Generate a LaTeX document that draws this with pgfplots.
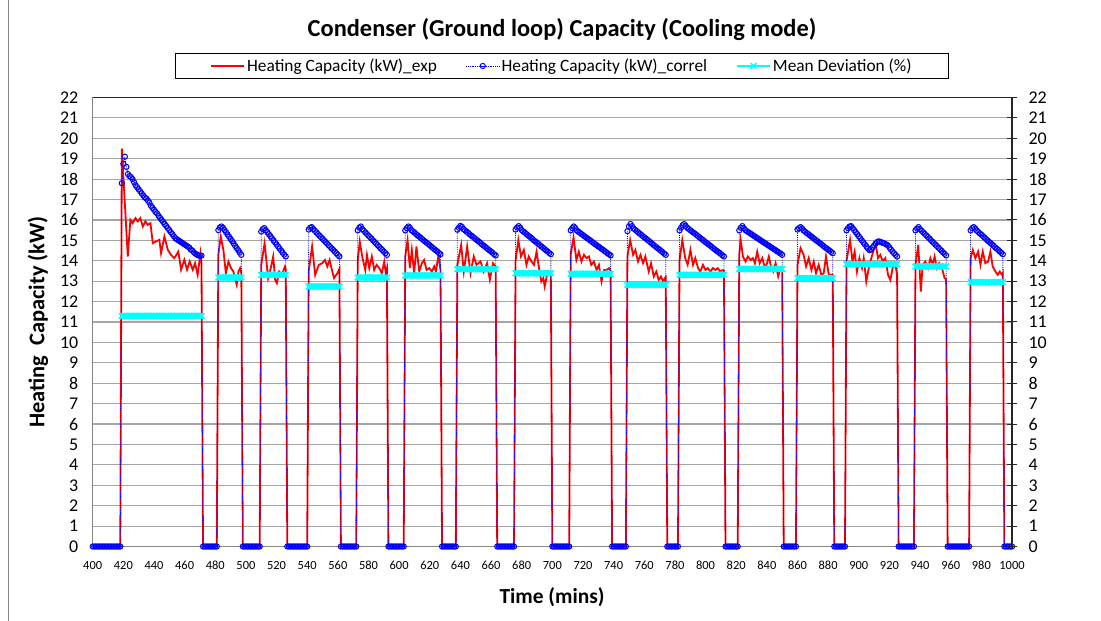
\documentclass[border=0pt]{standalone}
\usepackage{pgfplots}
\pgfplotsset{compat=1.18}
\usepackage{pgfplotstable}
\usepackage{fontspec}
\setmainfont{Carlito}
\definecolor{gridgray}{HTML}{A6A6A6}
\definecolor{axgray}{HTML}{868686}
\definecolor{cyanx}{RGB}{0,255,255}
\definecolor{redx}{RGB}{255,0,0}
\definecolor{bluex}{RGB}{0,0,255}
\pgfplotstableread[row sep=\\]{
t c d\\
400 0 nan\\401 0 nan\\402 0 nan\\403 0 nan\\404 0 nan\\405 0 nan\\406 0 nan\\407 0 nan\\408 0 nan\\409 0 nan\\410 0 nan\\411 0 nan\\412 0 nan\\413 0 nan\\414 0 nan\\415 0 nan\\416 0 nan\\417 0 nan\\418 0 nan\\
419 17.80 11.3\\420 18.75 11.3\\421 19.10 11.3\\422 18.60 11.3\\423 18.25 11.3\\424 18.15 11.3\\425 18.10 11.3\\426 18.00 11.3\\427 17.85 11.3\\428 17.70 11.3\\429 17.60 11.3\\430 17.50 11.3\\431 17.40 11.3\\432 17.30 11.3\\433 17.20 11.3\\434 17.10 11.3\\435 17.05 11.3\\436 16.95 11.3\\437 16.85 11.3\\438 16.70 11.3\\439 16.60 11.3\\440 16.50 11.3\\441 16.40 11.3\\442 16.32 11.3\\443 16.20 11.3\\444 16.10 11.3\\445 16.00 11.3\\446 15.90 11.3\\447 15.80 11.3\\448 15.70 11.3\\449 15.60 11.3\\450 15.50 11.3\\451 15.40 11.3\\452 15.30 11.3\\453 15.20 11.3\\454 15.10 11.3\\455 15.05 11.3\\456 15.00 11.3\\457 14.95 11.3\\458 14.90 11.3\\459 14.85 11.3\\460 14.80 11.3\\461 14.75 11.3\\462 14.70 11.3\\463 14.65 11.3\\464 14.55 11.3\\465 14.50 11.3\\466 14.42 11.3\\467 14.35 11.3\\468 14.30 11.3\\469 14.26 11.3\\470 14.25 11.3\\471 14.25 11.3\\
472 0 nan\\473 0 nan\\474 0 nan\\475 0 nan\\476 0 nan\\477 0 nan\\478 0 nan\\479 0 nan\\480 0 nan\\481 0 nan\\
482 15.50 13.18\\483 15.63 13.18\\484 15.68 13.18\\485 15.62 13.18\\486 15.51 13.18\\487 15.40 13.18\\488 15.29 13.18\\489 15.18 13.18\\490 15.07 13.18\\491 14.96 13.18\\492 14.85 13.18\\493 14.73 13.18\\494 14.62 13.18\\495 14.51 13.18\\496 14.40 13.18\\497 14.29 13.18\\
498 0 nan\\499 0 nan\\500 0 nan\\501 0 nan\\502 0 nan\\503 0 nan\\504 0 nan\\505 0 nan\\506 0 nan\\507 0 nan\\508 0 nan\\509 0 nan\\
510 15.43 13.31\\511 15.55 13.31\\512 15.60 13.31\\513 15.50 13.31\\514 15.40 13.31\\515 15.30 13.31\\516 15.20 13.31\\517 15.10 13.31\\518 15.00 13.31\\519 14.90 13.31\\520 14.80 13.31\\521 14.70 13.31\\522 14.60 13.31\\523 14.50 13.31\\524 14.40 13.31\\525 14.30 13.31\\526 14.21 13.31\\
527 0 nan\\528 0 nan\\529 0 nan\\530 0 nan\\531 0 nan\\532 0 nan\\533 0 nan\\534 0 nan\\535 0 nan\\536 0 nan\\537 0 nan\\538 0 nan\\539 0 nan\\540 0 nan\\
541 15.53 12.74\\542 15.62 12.74\\543 15.65 12.74\\544 15.55 12.74\\545 15.47 12.74\\546 15.39 12.74\\547 15.31 12.74\\548 15.23 12.74\\549 15.16 12.74\\550 15.08 12.74\\551 15.00 12.74\\552 14.92 12.74\\553 14.84 12.74\\554 14.76 12.74\\555 14.68 12.74\\556 14.60 12.74\\557 14.53 12.74\\558 14.45 12.74\\559 14.37 12.74\\560 14.29 12.74\\561 14.21 12.74\\
562 0 nan\\563 0 nan\\564 0 nan\\565 0 nan\\566 0 nan\\567 0 nan\\568 0 nan\\569 0 nan\\570 0 nan\\571 0 nan\\572 0 nan\\
573 15.49 13.18\\574 15.62 13.18\\575 15.68 13.18\\576 15.55 13.18\\577 15.47 13.18\\578 15.39 13.18\\579 15.31 13.18\\580 15.23 13.18\\581 15.16 13.18\\582 15.08 13.18\\583 15.00 13.18\\584 14.92 13.18\\585 14.84 13.18\\586 14.76 13.18\\587 14.68 13.18\\588 14.60 13.18\\589 14.53 13.18\\590 14.45 13.18\\591 14.37 13.18\\592 14.29 13.18\\
593 0 nan\\594 0 nan\\595 0 nan\\596 0 nan\\597 0 nan\\598 0 nan\\599 0 nan\\600 0 nan\\601 0 nan\\602 0 nan\\603 0 nan\\
604 15.49 13.28\\605 15.60 13.28\\606 15.68 13.28\\607 15.62 13.28\\608 15.50 13.28\\609 15.44 13.28\\610 15.38 13.28\\611 15.31 13.28\\612 15.25 13.28\\613 15.19 13.28\\614 15.13 13.28\\615 15.07 13.28\\616 15.00 13.28\\617 14.94 13.28\\618 14.88 13.28\\619 14.82 13.28\\620 14.76 13.28\\621 14.69 13.28\\622 14.63 13.28\\623 14.57 13.28\\624 14.51 13.28\\625 14.45 13.28\\626 14.38 13.28\\627 14.32 13.28\\
628 0 nan\\629 0 nan\\630 0 nan\\631 0 nan\\632 0 nan\\633 0 nan\\634 0 nan\\635 0 nan\\636 0 nan\\637 0 nan\\
638 15.52 13.59\\639 15.62 13.59\\640 15.71 13.59\\641 15.66 13.59\\642 15.55 13.59\\643 15.49 13.59\\644 15.43 13.59\\645 15.37 13.59\\646 15.30 13.59\\647 15.24 13.59\\648 15.18 13.59\\649 15.12 13.59\\650 15.06 13.59\\651 15.00 13.59\\652 14.94 13.59\\653 14.88 13.59\\654 14.81 13.59\\655 14.75 13.59\\656 14.69 13.59\\657 14.63 13.59\\658 14.57 13.59\\659 14.51 13.59\\660 14.45 13.59\\661 14.39 13.59\\662 14.32 13.59\\663 14.26 13.59\\
664 0 nan\\665 0 nan\\666 0 nan\\667 0 nan\\668 0 nan\\669 0 nan\\670 0 nan\\671 0 nan\\672 0 nan\\673 0 nan\\674 0 nan\\675 0 nan\\
676 15.53 13.39\\677 15.63 13.39\\678 15.70 13.39\\679 15.62 13.39\\680 15.50 13.39\\681 15.44 13.39\\682 15.38 13.39\\683 15.31 13.39\\684 15.25 13.39\\685 15.19 13.39\\686 15.13 13.39\\687 15.07 13.39\\688 15.00 13.39\\689 14.94 13.39\\690 14.88 13.39\\691 14.82 13.39\\692 14.76 13.39\\693 14.69 13.39\\694 14.63 13.39\\695 14.57 13.39\\696 14.51 13.39\\697 14.45 13.39\\698 14.38 13.39\\699 14.32 13.39\\
700 0 nan\\701 0 nan\\702 0 nan\\703 0 nan\\704 0 nan\\705 0 nan\\706 0 nan\\707 0 nan\\708 0 nan\\709 0 nan\\710 0 nan\\711 0 nan\\
712 15.49 13.36\\713 15.60 13.36\\714 15.68 13.36\\715 15.60 13.36\\716 15.48 13.36\\717 15.42 13.36\\718 15.37 13.36\\719 15.31 13.36\\720 15.26 13.36\\721 15.20 13.36\\722 15.15 13.36\\723 15.09 13.36\\724 15.04 13.36\\725 14.98 13.36\\726 14.92 13.36\\727 14.87 13.36\\728 14.81 13.36\\729 14.76 13.36\\730 14.70 13.36\\731 14.65 13.36\\732 14.59 13.36\\733 14.54 13.36\\734 14.48 13.36\\735 14.43 13.36\\736 14.37 13.36\\737 14.32 13.36\\738 14.26 13.36\\
739 0 nan\\740 0 nan\\741 0 nan\\742 0 nan\\743 0 nan\\744 0 nan\\745 0 nan\\746 0 nan\\747 0 nan\\748 0 nan\\
749 15.45 12.82\\750 15.68 12.82\\751 15.80 12.82\\752 15.70 12.82\\753 15.58 12.82\\754 15.52 12.82\\755 15.46 12.82\\756 15.40 12.82\\757 15.33 12.82\\758 15.27 12.82\\759 15.21 12.82\\760 15.15 12.82\\761 15.09 12.82\\762 15.03 12.82\\763 14.97 12.82\\764 14.91 12.82\\765 14.84 12.82\\766 14.78 12.82\\767 14.72 12.82\\768 14.66 12.82\\769 14.60 12.82\\770 14.54 12.82\\771 14.48 12.82\\772 14.42 12.82\\773 14.35 12.82\\774 14.29 12.82\\
775 0 nan\\776 0 nan\\777 0 nan\\778 0 nan\\779 0 nan\\780 0 nan\\781 0 nan\\782 0 nan\\
783 15.49 13.31\\784 15.62 13.31\\785 15.74 13.31\\786 15.80 13.31\\787 15.72 13.31\\788 15.62 13.31\\789 15.56 13.31\\790 15.50 13.31\\791 15.44 13.31\\792 15.38 13.31\\793 15.33 13.31\\794 15.27 13.31\\795 15.21 13.31\\796 15.15 13.31\\797 15.09 13.31\\798 15.03 13.31\\799 14.97 13.31\\800 14.91 13.31\\801 14.86 13.31\\802 14.80 13.31\\803 14.74 13.31\\804 14.68 13.31\\805 14.62 13.31\\806 14.56 13.31\\807 14.50 13.31\\808 14.44 13.31\\809 14.39 13.31\\810 14.33 13.31\\811 14.27 13.31\\812 14.21 13.31\\
813 0 nan\\814 0 nan\\815 0 nan\\816 0 nan\\817 0 nan\\818 0 nan\\819 0 nan\\820 0 nan\\821 0 nan\\
822 15.49 13.60\\823 15.62 13.60\\824 15.70 13.60\\825 15.60 13.60\\826 15.50 13.60\\827 15.45 13.60\\828 15.40 13.60\\829 15.35 13.60\\830 15.30 13.60\\831 15.25 13.60\\832 15.20 13.60\\833 15.15 13.60\\834 15.10 13.60\\835 15.05 13.60\\836 15.00 13.60\\837 14.95 13.60\\838 14.90 13.60\\839 14.85 13.60\\840 14.80 13.60\\841 14.75 13.60\\842 14.70 13.60\\843 14.65 13.60\\844 14.60 13.60\\845 14.55 13.60\\846 14.50 13.60\\847 14.45 13.60\\848 14.40 13.60\\849 14.35 13.60\\850 14.29 13.60\\
851 0 nan\\852 0 nan\\853 0 nan\\854 0 nan\\855 0 nan\\856 0 nan\\857 0 nan\\858 0 nan\\859 0 nan\\
860 15.53 13.15\\861 15.60 13.15\\862 15.65 13.15\\863 15.58 13.15\\864 15.48 13.15\\865 15.42 13.15\\866 15.36 13.15\\867 15.31 13.15\\868 15.25 13.15\\869 15.19 13.15\\870 15.13 13.15\\871 15.07 13.15\\872 15.01 13.15\\873 14.96 13.15\\874 14.90 13.15\\875 14.84 13.15\\876 14.78 13.15\\877 14.72 13.15\\878 14.66 13.15\\879 14.61 13.15\\880 14.55 13.15\\881 14.49 13.15\\882 14.43 13.15\\883 14.37 13.15\\
884 0 nan\\885 0 nan\\886 0 nan\\887 0 nan\\888 0 nan\\889 0 nan\\890 0 nan\\891 0 nan\\
892 15.49 13.83\\893 15.60 13.83\\894 15.68 13.83\\895 15.70 13.83\\896 15.60 13.83\\897 15.50 13.83\\898 15.40 13.83\\899 15.30 13.83\\900 15.20 13.83\\901 15.10 13.83\\902 15.00 13.83\\903 14.90 13.83\\904 14.80 13.83\\905 14.70 13.83\\906 14.60 13.83\\907 14.52 13.83\\908 14.55 13.83\\909 14.65 13.83\\910 14.75 13.83\\911 14.85 13.83\\912 14.92 13.83\\913 14.95 13.83\\914 14.93 13.83\\915 14.90 13.83\\916 14.87 13.83\\917 14.84 13.83\\918 14.80 13.83\\919 14.75 13.83\\920 14.65 13.83\\921 14.55 13.83\\922 14.45 13.83\\923 14.37 13.83\\924 14.29 13.83\\925 14.21 13.83\\
926 0 nan\\927 0 nan\\928 0 nan\\929 0 nan\\930 0 nan\\931 0 nan\\932 0 nan\\933 0 nan\\934 0 nan\\935 0 nan\\936 0 nan\\
937 15.49 13.72\\938 15.58 13.72\\939 15.65 13.72\\940 15.55 13.72\\941 15.47 13.72\\942 15.40 13.72\\943 15.32 13.72\\944 15.25 13.72\\945 15.17 13.72\\946 15.10 13.72\\947 15.02 13.72\\948 14.94 13.72\\949 14.87 13.72\\950 14.79 13.72\\951 14.72 13.72\\952 14.64 13.72\\953 14.57 13.72\\954 14.49 13.72\\955 14.41 13.72\\956 14.34 13.72\\957 14.26 13.72\\
958 0 nan\\959 0 nan\\960 0 nan\\961 0 nan\\962 0 nan\\963 0 nan\\964 0 nan\\965 0 nan\\966 0 nan\\967 0 nan\\968 0 nan\\969 0 nan\\970 0 nan\\971 0 nan\\972 0 nan\\
973 15.49 12.95\\974 15.60 12.95\\975 15.65 12.95\\976 15.58 12.95\\977 15.48 12.95\\978 15.41 12.95\\979 15.34 12.95\\980 15.28 12.95\\981 15.21 12.95\\982 15.14 12.95\\983 15.07 12.95\\984 15.00 12.95\\985 14.93 12.95\\986 14.87 12.95\\987 14.80 12.95\\988 14.73 12.95\\989 14.66 12.95\\990 14.59 12.95\\991 14.53 12.95\\992 14.46 12.95\\993 14.39 12.95\\994 14.32 12.95\\
995 0 nan\\996 0 nan\\997 0 nan\\998 0 nan\\999 0 nan\\1000 0 nan\\
}\datatable
\begin{document}
\begin{tikzpicture}
\path[use as bounding box] (0bp,0bp) rectangle (1101bp,621bp);
\draw[color=axgray, line width=1bp] (8bp,0bp) -- (8bp,621bp);
\begin{axis}[
  at={(92.7bp,74.5bp)}, anchor=south west,
  width=919.3bp, height=449bp, scale only axis,
  xmin=400, xmax=1000, ymin=0, ymax=22,
  xtick={400,420,...,1000}, ytick={0,1,...,22},
  ymajorgrids, grid style={color=gridgray, line width=1.1bp},
  axis line style={draw=none},
  major tick length=0pt,
  clip=false,
  unbounded coords=jump,
  /pgf/number format/assume math mode=true,
  /pgf/number format/1000 sep={},
  xticklabel style={font=\fontsize{12.5}{14}\selectfont, yshift=-11bp},
  yticklabel style={font=\fontsize{18}{20}\selectfont, xshift=-11bp},
  legend columns=3,
  legend style={at={(axis description cs:0.5105,1.0702)}, anchor=center,
    draw=black, line width=0.8bp, font=\fontsize{17.4}{19}\selectfont,
    inner xsep=35bp, inner ysep=3.5bp,
    /tikz/every even column/.append style={column sep=27bp}},
  legend cell align=left,
  legend image code/.code={\draw[mark repeat=2,mark phase=2,#1] plot coordinates {(0bp,0bp) (16.5bp,0bp) (33bp,0bp)};},
]
\draw[color=axgray, line width=1.3bp] (rel axis cs:0,0) -- (rel axis cs:0,1);
\draw[color=axgray, line width=1.5bp] (rel axis cs:0,0) -- (rel axis cs:1,0);
\draw[color=black!85, line width=1.4bp] (rel axis cs:0,1) -- (rel axis cs:1,1);
\addplot[color=redx, line width=1.8bp] coordinates {
(400,0) (418,0) (419,19.5) (422.9,14.21) (424.6,16.01) (426.1,15.84) (427.9,16.09) (429.4,15.93) (431.1,16.09) (432.7,15.68) (434.4,15.93) (435.9,15.76) (437.7,15.84) (439.2,14.86) (441.4,14.95) (443.5,15.03) (444.6,14.37) (446.8,15.19) (449,14.54) (451.1,14.29) (453.3,14.13) (455.9,14.45) (457.7,13.56) (459.8,14.05) (461.6,13.56) (463.3,13.97) (465.3,13.56) (466.8,13.88) (468.5,13.31) (470.3,14.37) (471,13.88) (472,0)
(481,0) (482,14.3) (483.6,15.19) (485.3,14.53) (486.9,13.39) (488.6,13.96) (490.3,13.64) (491.8,13.47) (494,12.82) (495.1,13.47) (496.2,13.64) (497,13.4) (498,0)
(509,0) (510,13.8) (512.2,14.86) (514.5,13.15) (516.2,13.64) (517.8,14.21) (519.1,13.06) (520.2,12.90) (521.7,13.47) (523.4,13.31) (525.5,13.72) (526,13.6) (527,0)
(540,0) (541,13.5) (543.2,14.70) (545.2,13.31) (547.6,13.80) (549.8,13.88) (551.6,14.04) (553.1,13.72) (554.6,14.04) (556.4,13.47) (557.5,13.15) (559.7,13.39) (561,13.6) (562,0)
(572,0) (573,14.0) (574.3,14.94) (576.1,14.13) (577.9,13.55) (579,14.29) (580.5,13.64) (582.2,14.21) (583.7,13.55) (585.3,13.80) (587,13.64) (588.7,13.39) (590.3,13.96) (591.3,13.39) (592,13.6) (593,0)
(603,0) (604,14.2) (605.5,15.02) (607,13.64) (608.3,14.53) (609.8,13.39) (611.3,14.70) (613.1,13.47) (614.8,13.88) (616.3,14.04) (617.9,13.55) (619.6,13.64) (621.3,13.47) (622.9,13.72) (624,13.47) (625.7,14.29) (627,13.55) (628,0)
(637,0) (638,13.8) (640.5,14.78) (642.2,13.47) (644.4,14.70) (646.6,13.39) (648.7,14.21) (650.5,13.80) (653.1,13.97) (655.2,13.47) (657.4,13.88) (659.2,13.07) (661.3,13.88) (663,13.72) (664,0)
(675,0) (676,14.0) (677.8,15.02) (679.5,14.21) (681.4,14.53) (683.1,13.80) (684.6,14.21) (686.4,13.96) (688,13.80) (689.7,14.45) (691.3,13.64) (692.8,12.98) (694.1,13.15) (695,12.74) (696.3,13.23) (697.8,13.47) (699,13.3) (700,0)
(711,0) (712,14.3) (713.8,15.14) (715.7,14.04) (717.3,14.45) (719,13.96) (720.6,14.29) (722.4,14.13) (723.9,14.21) (725.4,13.80) (727.1,13.96) (728.9,13.55) (730.4,13.80) (732.1,12.98) (733.7,13.55) (735.4,13.55) (737,13.64) (738,13.5) (739,0)
(748,0) (749,14.2) (750.8,15.02) (752.7,14.29) (754.2,14.53) (755.9,13.96) (757.5,14.29) (759.2,13.88) (760.7,14.21) (762.9,13.47) (764.4,13.88) (766.2,13.23) (767.9,13.47) (769.4,13.06) (770.9,13.23) (772.3,12.98) (773.4,13.15) (774,13.2) (775,0)
(782,0) (783,14.0) (784.8,15.02) (786.7,14.13) (788.3,13.80) (790.1,14.53) (791.8,13.80) (793.3,14.13) (795.1,13.64) (796.6,13.47) (798.3,13.80) (799.9,13.55) (801.4,13.64) (803.1,13.47) (804.8,13.64) (806.4,13.55) (807.9,13.64) (809.6,13.47) (811.4,13.55) (812,13.5) (813,0)
(821,0) (822,14.3) (822.9,15.02) (824.4,14.21) (826.1,13.96) (827.6,14.21) (829.4,14.04) (830.9,14.13) (832.2,13.88) (833.7,14.45) (835.3,13.88) (837,14.13) (838.5,13.72) (839.8,13.80) (841.3,14.21) (842.9,13.64) (844.2,13.47) (845.7,13.88) (847.4,13.23) (848.9,13.64) (850,13.5) (851,0)
(859,0) (860,13.8) (862,14.62) (864,14.29) (865.6,13.72) (867.3,14.13) (869.1,13.55) (870.6,13.96) (872.1,13.39) (873.8,13.80) (875.6,13.31) (877.1,13.39) (878.6,14.21) (880.4,13.31) (882.5,13.31) (883,13.3) (884,0)
(891,0) (892,14.0) (894.3,15.02) (895.9,13.96) (897.3,14.45) (898.8,13.47) (900.4,14.13) (902.1,13.64) (903.2,14.13) (904.9,12.98) (906.5,13.64) (908.2,14.13) (909.7,14.53) (911.2,14.78) (912.5,14.13) (914.1,14.29) (915.6,13.96) (917.3,14.13) (919.1,13.31) (920.6,13.06) (922.1,13.64) (923.9,13.80) (925,13.31) (926,0)
(936,0) (937,13.8) (938.8,14.78) (940.5,12.49) (941.7,13.80) (943.4,13.96) (945.2,13.64) (946.7,14.13) (948.2,13.80) (949.5,14.21) (951,13.64) (952.5,13.88) (954.3,13.64) (956,13.15) (957,13.1) (958,0)
(972,0) (973,14.13) (974.4,14.53) (976.1,14.13) (977.9,14.45) (979.4,13.80) (980.9,14.45) (982.6,13.88) (984.4,13.96) (985.9,14.45) (987.4,13.72) (989.2,13.47) (990.7,13.31) (992,13.47) (993.5,13.31) (994,13.4) (995,0) (1000,0)
};
\addlegendentry{Heating Capacity (kW)\_exp}
\addplot[color=bluex, densely dotted, line width=0.8bp, mark=o, mark size=2.6bp, mark options={solid, line width=1bp}] table[x=t, y=c] {\datatable};
\addlegendentry{Heating Capacity (kW)\_correl}
\addplot[color=cyanx, line width=1.8bp, mark=x, mark size=4bp, mark options={solid, line width=1.5bp}] table[x=t, y=d] {\datatable};
\addlegendentry{Mean Deviation (\%)}
\end{axis}
\begin{axis}[
  at={(92.7bp,74.5bp)}, anchor=south west,
  width=919.3bp, height=449bp, scale only axis,
  xmin=400, xmax=1000, ymin=0, ymax=22,
  axis x line=none, axis y line*=right,
  ytick={0,1,...,22},
  axis line style={color=black!85, line width=1.6bp},
  tick align=center, major tick length=10bp,
  tick style={color=black!85, line width=1bp},
  /pgf/number format/assume math mode=true,
  yticklabel style={font=\fontsize{18}{20}\selectfont, xshift=8bp},
]
\end{axis}
\node[font=\bfseries\fontsize{24.5}{28}\selectfont] at (562bp,591bp) {Condenser (Ground loop) Capacity (Cooling mode)};
\node[rotate=90, font=\bfseries\fontsize{22.5}{26}\selectfont] at (38bp,299bp) {Heating\ \ Capacity (kW)};
\node[font=\bfseries\fontsize{21.5}{24}\selectfont] at (552bp,24bp) {Time (mins)};
\end{tikzpicture}
\end{document}
